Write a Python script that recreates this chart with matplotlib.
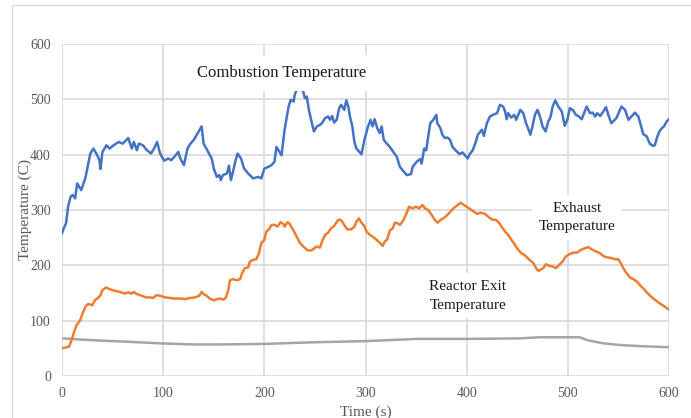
import numpy as np
import matplotlib
matplotlib.use('Agg')
import matplotlib.pyplot as plt
from matplotlib.patches import Rectangle

# combustion temperature (blue)
comb_t=[0,2,4,6,8.5,10.5,13,15,19,23,25,28,31,34,37,38,40,44,47,51,56,60,65.5,69,71,74,76,80,84,88,91,94,97,
        101,105,108,112,115,117,120.5,124,127,130,133,136,138,140,143.6,148,150,153,155.5,157,159,163,165,167,169,
        171.6,173.6,177,180,184,189,194,197,200,204,207,210,212,214,217,220,224,226,229,230,232,236,238.5,240,242,
        244,247,249,252,255,257,260,263,265,267,269,271.5,274,276,279,281,283,284.6,287,289,291,296,299,302,305,307,
        309,311.6,314,316,318,321,324,327.5,331,334,337,341,345,346.6,350.5,354,355.5,358,360,362,364,367,370,371,
        374,376,378.5,381,383.5,386,389,393,396,401,403,406,409,411,415,417,420,423,426,430,433,436,438,439.5,441,
        444,447,449,453,456,458.6,461,463,465,467.5,470,472.5,475,478,480.7,483,485,487.6,490.6,494,497,499.5,502,
        504.8,508,511,513.7,516,518.6,522,524.5,527,529,532,535,537.7,540,543,548,553,556.5,560,563,566.4,569.7,572,
        574.6,578,581,584,586,588,590.5,593,595,597.7,600]
comb_v=[258,268,276,306,324,327,321,348,336,357,375,402,411,402,390,374,405,417,411,417,423,420,430,411,423,408,420,
        417,408,402,411,423,402,389,393,390,398,405,393,381,411,420,426,435,445,451,420,408,393,375,360,363,354,363,
        366,380,354,369,390,402,393,375,366,357,360,357,375,378,381,387,414,408,399,445,487,499,496,508,518,520,514,
        502,505,481,457,442,451,454,457,466,469,463,470,458,463,484,490,481,498,487,469,451,423,411,401,427,448,463,
        451,464,448,439,451,427,420,414,405,396,378,371,363,365,378,387,392,384,411,408,433,457,463,472,457,448,436,
        430,431,427,414,408,401,404,393,401,408,423,436,445,434,457,469,472,475,490,487,478,464,475,467,472,463,481,
        475,457,446,436,451,472,481,469,451,442,460,469,487,498,487,478,452,463,484,481,472,469,464,475,487,475,476,
        469,475,470,478,486,472,457,466,487,481,463,469,476,469,454,437,433,420,416,417,430,442,448,451,460,464]

# exhaust temperature (orange)
exh_t=[0,7,9.5,12,14.5,18,21,23.7,26,30,32.6,36,38,40,43.5,47,52,57,62,65.5,69,71,74,79,83,87,90,93.5,97,102,107,
       111.7,116.6,121.5,126.5,131.5,135.7,138,140,143,146,150,153.5,156,160,162,164.4,166,169,172.6,176,178,180.8,
       184,185.8,189,192,194.7,197,200,202,204.6,207,210.5,213,216,218.7,220,223,225,228.6,232,235,238.5,242.8,
       246.8,249.4,251.7,255,257,260,263,266,269,272.5,274.7,277,279.7,282,286,289,291,293.5,296,298.8,301,304.4,
       307.7,311,314,317,319,321.5,324,327,329,331.4,334,337.3,340.6,343,346.6,350,353,356.5,358.8,362,365.4,368.6,
       371.3,374.3,378.5,383,387,391,394,397.3,400.6,404,407,410.5,413.8,418,421.4,424.7,429,432,434.5,438,441,
       444.4,447.7,451,454,457.6,462,466,468.5,470.8,473,475.8,478.4,481.7,485,488.3,491.6,494.9,498,501.5,505.4,
       509.4,512.7,517,520,523.5,527.8,531.8,535.7,540,543.3,546.6,550,552.2,554.8,558,561.4,564.7,568.7,572,575.3,
       579.6,584.5,589.4,594.4,600]
exh_v=[50,53,65,80,92,101,116,127,130,128,137,142,146,155,160,157,154,152,149,151,149,152,148,145,142,142,141,146,
       145,142,141,140,140,139,141,142,145,152,148,145,140,137,139,140,138,142,155,173,175,173,175,186,195,196,207,
       210,211,222,240,246,261,265,273,273,270,278,275,270,278,275,264,252,241,234,227,227,231,234,232,243,255,259,
       267,271,281,283,279,271,265,265,270,279,285,277,271,261,255,251,246,241,235,243,247,263,267,277,276,273,281,
       294,306,303,306,303,309,303,300,291,282,277,282,287,295,303,309,313,309,305,301,297,293,295,293,288,283,282,
       277,270,261,255,246,237,228,222,218,210,204,195,190,192,195,202,199,198,195,201,207,216,220,223,223,228,231,
       233,229,225,222,216,214,213,211,211,204,195,186,178,175,170,163,157,148,140,133,127,120]

# reactor exit temperature (gray)
exit_t=[0,18,37.5,64,97,130,156,200,250,300,350,400,452,472,512,518.6,535,551.5,571,600]
exit_v=[68,66,64,62,59,57,57,58,61,63,67,67,68,70,70,65,59,56,54,52]

xticks=[0,100,200,300,400,500,600]
yticks=[0,100,200,300,400,500,600]

plt.rcParams['font.family']=['Liberation Serif','DejaVu Serif']
fig=plt.figure(figsize=(6.91,4.18),dpi=100)
# outer chart frame, cut off on the right and bottom like the original
fig.patches.append(Rectangle((12/691,-0.1),1.2,1-4.5/418+0.1,transform=fig.transFigure,
                             fill=False,edgecolor='#d9d9d9',linewidth=1.0))
ax=fig.add_axes([62/691,1-376/418,607/691,332/418])
ax.plot(exit_t,exit_v,color='#a5a5a5',linewidth=1.8,zorder=3)
ax.plot(exh_t,exh_v,color='#ed7d31',linewidth=1.8,zorder=3)
ax.plot(comb_t,comb_v,color='#4472c4',linewidth=1.8,zorder=3)
ax.set_xlim(0,600)
ax.set_ylim(0,600)
ax.set_xticks(xticks)
ax.set_yticks(yticks)
ax.grid(True,color='#d9d9d9',linewidth=1.2,zorder=0)
ax.set_axisbelow(True)
for s in ax.spines.values():
  s.set_visible(False)
ax.tick_params(length=0,labelsize=10,labelcolor='#595959',pad=8)
ax.set_xlabel('Time (s)',fontsize=11,color='#595959',labelpad=4)
ax.set_ylabel('Temperature (C)',fontsize=11,color='#595959',labelpad=-1.5)

box=dict(facecolor='white',edgecolor='none',boxstyle='square,pad=0.6')
ax.text(217,548,'Combustion Temperature',fontsize=12,ha='center',va='center',color='#1a1a1a',bbox=box,zorder=5)
box2=dict(facecolor='white',edgecolor='none',boxstyle='square,pad=0.45')
ax.text(509,286,'Exhaust\nTemperature',fontsize=11,ha='center',va='center',multialignment='center',
        color='#1a1a1a',bbox=box2,zorder=5,linespacing=1.55)
ax.text(401,145,'Reactor Exit\nTemperature',fontsize=11,ha='center',va='center',multialignment='center',
        color='#1a1a1a',bbox=box2,zorder=5,linespacing=1.55)
fig.savefig('out.png',dpi=100)
